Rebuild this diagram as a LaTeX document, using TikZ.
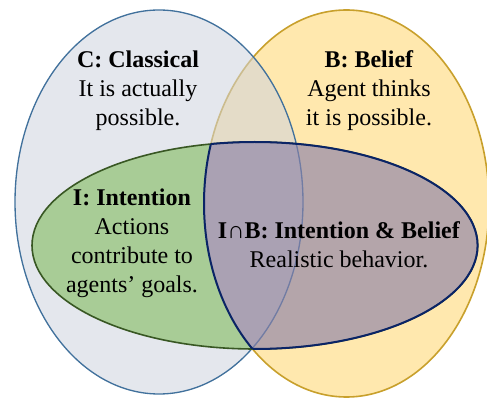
\documentclass[tikz,border=0pt]{standalone}
\usepackage{fontspec}
\setmainfont{Liberation Serif}
\usepackage{xcolor}
\usetikzlibrary{positioning}

\definecolor{beliefFill}{HTML}{FFE8AE}
\definecolor{beliefLine}{HTML}{C8A02C}
\definecolor{classFill}{HTML}{CED3DE}
\definecolor{classLine}{HTML}{41719C}
\definecolor{intentFill}{HTML}{A8CC96}
\definecolor{intentLine}{HTML}{385723}
\definecolor{bothFill}{HTML}{8C82A8}
\definecolor{bothLine}{HTML}{0A2466}

% the three sets, in pixel units
\def\ellC{(159,202) ellipse [x radius=144, y radius=192]}
\def\ellB{(346.5,203.5) ellipse [x radius=142.5, y radius=193.5]}
\def\ellI{(254.8,245.5) ellipse [x radius=222.8, y radius=103.5]}

\begin{document}
\begin{tikzpicture}[x=0.75pt, y=-0.75pt,
    font=\fontsize{18}{21.75}\selectfont,
    setlabel/.style={align=center, anchor=base, inner sep=0pt}]

    \path[use as bounding box] (0,0) rectangle (487,399);

    % belief first, classical laid over it
    \path[fill=beliefFill, draw=beliefLine, line width=1.2pt] \ellB;
    \path[fill=classFill, fill opacity=0.55,
      draw=classLine, line width=1pt] \ellC;

    % intention outside belief
    \begin{scope}
      \clip \ellI;
      \fill[intentFill, even odd rule] \ellI \ellB;
    \end{scope}
    \draw[intentLine, line width=1.2pt] \ellI;

    % intention and belief
    \begin{scope}
      \clip \ellI;
      \fill[bothFill, fill opacity=0.65] \ellB;
      \draw[bothLine, line width=1.5pt] \ellB;
    \end{scope}
    \begin{scope}
      \clip \ellB;
      \draw[bothLine, line width=1.5pt] \ellI;
    \end{scope}

    \node[name=classical, setlabel] at (138,125.5)
      {\textbf{C: Classical}\\It is actually\\possible.};
    \node[name=belief, setlabel] at (369,125.5)
      {\textbf{B: Belief}\\Agent thinks\\it is possible.};
    \node[name=intention, setlabel] at (132,293)
      {\textbf{I: Intention}\\Actions\\contribute to\\agents’ goals.};
    \node[name=both, setlabel] at (339,267.5)
      {\textbf{I∩B: Intention \& Belief}\\Realistic behavior.};

\end{tikzpicture}
\end{document}
